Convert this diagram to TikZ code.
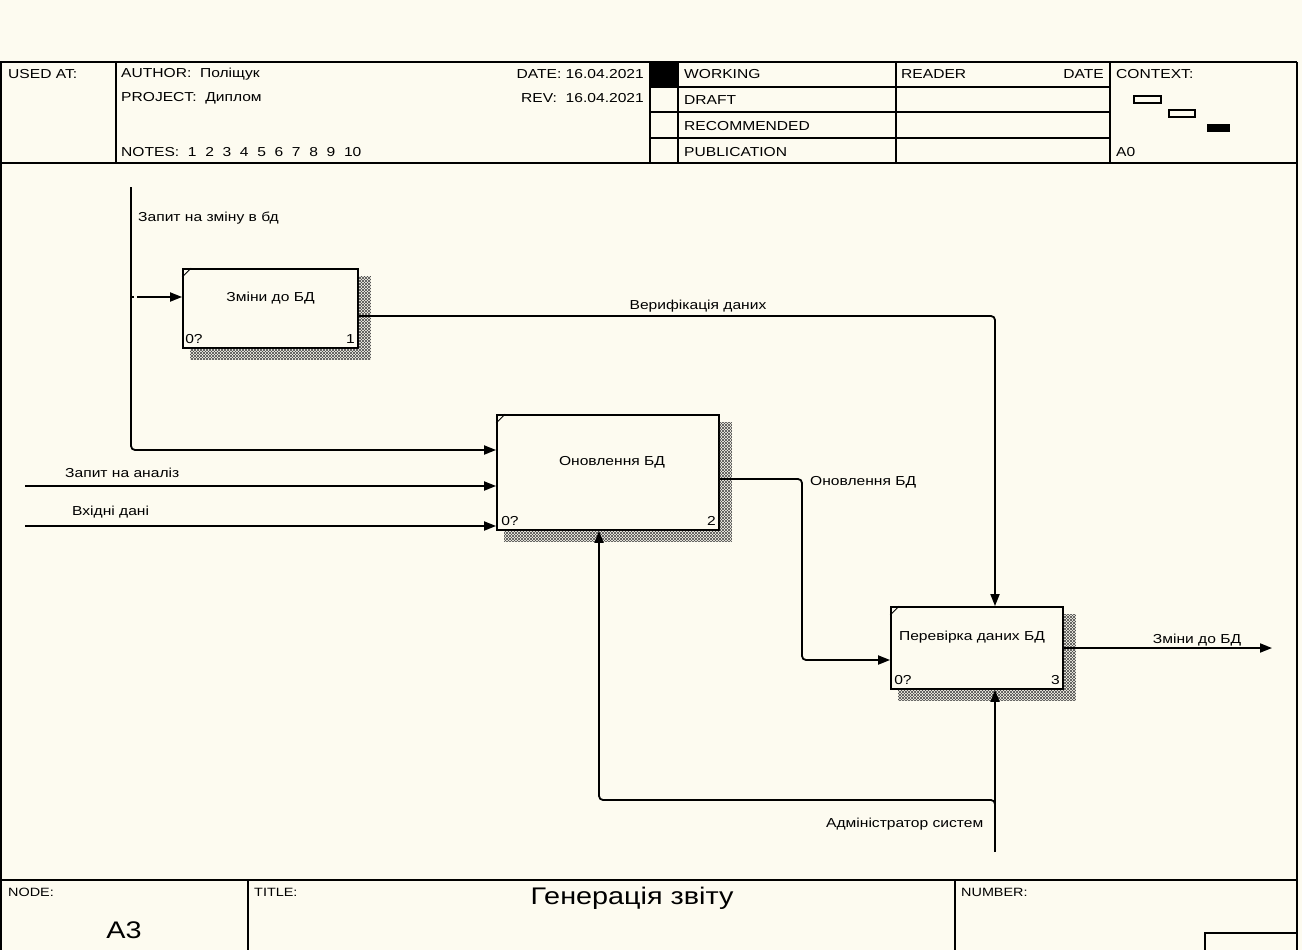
\documentclass[tikz,border=0pt]{standalone}
\usepackage{fontspec}
\setmainfont{Liberation Sans}[FakeStretch=1.2]
\usetikzlibrary{arrows.meta,patterns}
\definecolor{bg}{HTML}{FDFBF0}
\newcommand\idefdeco[1]{%
  \foreach \pat in {north east lines, north west lines}
  \fill[pattern=\pat, pattern color=black!70]
    ([xshift=8pt]#1.south west) -- (#1.south east) -- ([yshift=-8pt]#1.north east)
    -- ([xshift=12pt,yshift=-8pt]#1.north east) -- ([xshift=12pt,yshift=-11pt]#1.south east)
    -- ([xshift=8pt,yshift=-11pt]#1.south west) -- cycle;
  \draw[line width=0.9pt] ([yshift=-9pt]#1.north west) -- ([xshift=9pt]#1.north west);
}
\begin{document}
\begin{tikzpicture}[x=1pt,y=-1pt,
  frm/.style={line width=1.8pt},
  box/.style={draw, line width=1.8pt, inner sep=0pt},
  flow/.style={line width=1.8pt, rounded corners=4pt, -{Triangle[length=12pt,width=9pt]}},
  wire/.style={line width=1.8pt, rounded corners=4pt},
  lbl/.style={font=\fontsize{13}{15}\selectfont, inner sep=0pt},
  lft/.style={lbl, anchor=west},
  big/.style={font=\fontsize{24}{28}\selectfont, inner sep=0pt}]
\useasboundingbox (0,0) rectangle (1302,950);
\fill[bg] (0,0) rectangle (1302,950);

% ---------- header frame ----------
\draw[frm] (0,62) -- (1297,62);
\draw[frm] (0,163) -- (1297,163);
\draw[frm] (1,62) -- (1,950);
\draw[frm] (1297,62) -- (1297,950);
\draw[frm] (116,62) -- (116,163);
\draw[frm] (650,62) -- (650,163);
\draw[frm] (678,62) -- (678,163);
\draw[frm] (896,62) -- (896,163);
\draw[frm] (1110,62) -- (1110,163);
\foreach \yy in {87,112,138} \draw[frm] (650,\yy) -- (1110,\yy);
\fill[black] (650,62) rectangle (678,87);

\node[lft] (usedat) at (8,74) {USED AT:};
\node[lft] (author) at (121,74) {AUTHOR:\ \ Поліщук};
\node[lft] (project) at (121,98) {PROJECT:\ \ Диплом};
\node[lft] (notes) at (121,152) {NOTES:\ \ 1\ \ 2\ \ 3\ \ 4\ \ 5\ \ 6\ \ 7\ \ 8\ \ 9\ \ 10};
\node[lbl, anchor=east] (date) at (644,74) {DATE: 16.04.2021};
\node[lbl, anchor=east] (rev) at (644,98) {REV:\ \ 16.04.2021};
\node[lft] (working) at (684,74) {WORKING};
\node[lft] (draft) at (684,100) {DRAFT};
\node[lft] (recommended) at (684,126) {RECOMMENDED};
\node[lft] (publication) at (684,152) {PUBLICATION};
\node[lft] (reader) at (901,74) {READER};
\node[lbl, anchor=east] (rdate) at (1104,74) {DATE};
\node[lft] (context) at (1116,74) {CONTEXT:};
\node[lft] (a0) at (1116,152) {A0};
\draw[line width=1.4pt] (1134,96) rectangle (1161,103);
\draw[line width=1.4pt] (1169,110) rectangle (1195,117);
\fill[black] (1207,124) rectangle (1230,132);

% ---------- footer ----------
\draw[frm] (0,880) -- (1297,880);
\draw[frm] (248,880) -- (248,950);
\draw[frm] (955,880) -- (955,950);
\draw[frm] (1205,933) rectangle (1297,952);
\node[lft, font=\fontsize{12}{14}\selectfont] (nodelbl) at (8,892) {NODE:};
\node[lft, font=\fontsize{12}{14}\selectfont] (titlelbl) at (254,892) {TITLE:};
\node[lft, font=\fontsize{12}{14}\selectfont] (numlbl) at (961,892) {NUMBER:};
\node[big] (title) at (632,898) {Генерація звіту};
\node[big] (nodeid) at (124,930) {A3};

% ---------- activity boxes ----------
\node[box, minimum width=175pt, minimum height=79pt] (b1) at (270.5,308.5) {};
\node[box, minimum width=222pt, minimum height=115pt] (b2) at (608,472.5) {};
\node[box, minimum width=172pt, minimum height=82pt] (b3) at (977,648) {};
\idefdeco{b1}
\idefdeco{b2}
\idefdeco{b3}
\node[lbl] (b1t) at ([yshift=10.5pt]b1.center) {Зміни до БД};
\node[lbl] (b2t) at ([xshift=4pt,yshift=10.5pt]b2.center) {Оновлення БД};
\node[lbl] (b3t) at ([xshift=-5pt,yshift=11pt]b3.center) {Перевірка даних БД};
\node[lbl, anchor=south west] (b1a) at ([xshift=3pt,yshift=5pt]b1.south west) {0?};
\node[lbl, anchor=south east] (b1n) at ([xshift=-4pt,yshift=5pt]b1.south east) {1};
\node[lbl, anchor=south west] (b2a) at ([xshift=5pt,yshift=5pt]b2.south west) {0?};
\node[lbl, anchor=south east] (b2n) at ([xshift=-4pt,yshift=5pt]b2.south east) {2};
\node[lbl, anchor=south west] (b3a) at ([xshift=4pt,yshift=5pt]b3.south west) {0?};
\node[lbl, anchor=south east] (b3n) at ([xshift=-4pt,yshift=5pt]b3.south east) {3};

% ---------- connectors ----------
\coordinate (s1) at (131,187);
\coordinate (j1) at (131,297);
\coordinate (s2) at (25,486);
\coordinate (s3) at (25,526);
\coordinate (m1) at (995,852);
\coordinate (o1) at (1272,648);

\draw[flow] (s1) -- (131,450) -- ([yshift=22.5pt]b2.west);
\draw[flow] ([xshift=6pt]j1) -- ([yshift=11.5pt]b1.west);
\draw[line width=1.8pt] (j1) -- ++(3,0);
\draw[flow] (s2) -- ([yshift=-13.5pt]b2.west);
\draw[flow] (s3) -- ([yshift=-53.5pt]b2.west);
\draw[flow] ([yshift=-7.5pt]b1.east) -| ([xshift=18pt]b3.north);
\draw[flow] ([yshift=-6.5pt]b2.east) -- (802,479) -- (802,660) -- ([yshift=-12pt]b3.west);
\draw[flow] (b3.east) -- (o1);
\draw[flow] (m1) -- ([xshift=18pt]b3.south);
\draw[flow] (995,806) -- (995,800) -- (599,800) -- ([xshift=-9pt]b2.south);

% ---------- arrow labels ----------
\node[lft] (l1) at (138,218) {Запит на зміну в бд};
\node[lbl] (l2) at (698,306) {Верифікація даних};
\node[lft] (l3) at (65,473) {Запит на аналіз};
\node[lft] (l4) at (72,512) {Вхідні дані};
\node[lft] (l5) at (810,482) {Оновлення БД};
\node[lbl] (l6) at (1197,640) {Зміни до БД};
\node[lft] (l7) at (826,824) {Адміністратор систем};
\end{tikzpicture}
\end{document}
